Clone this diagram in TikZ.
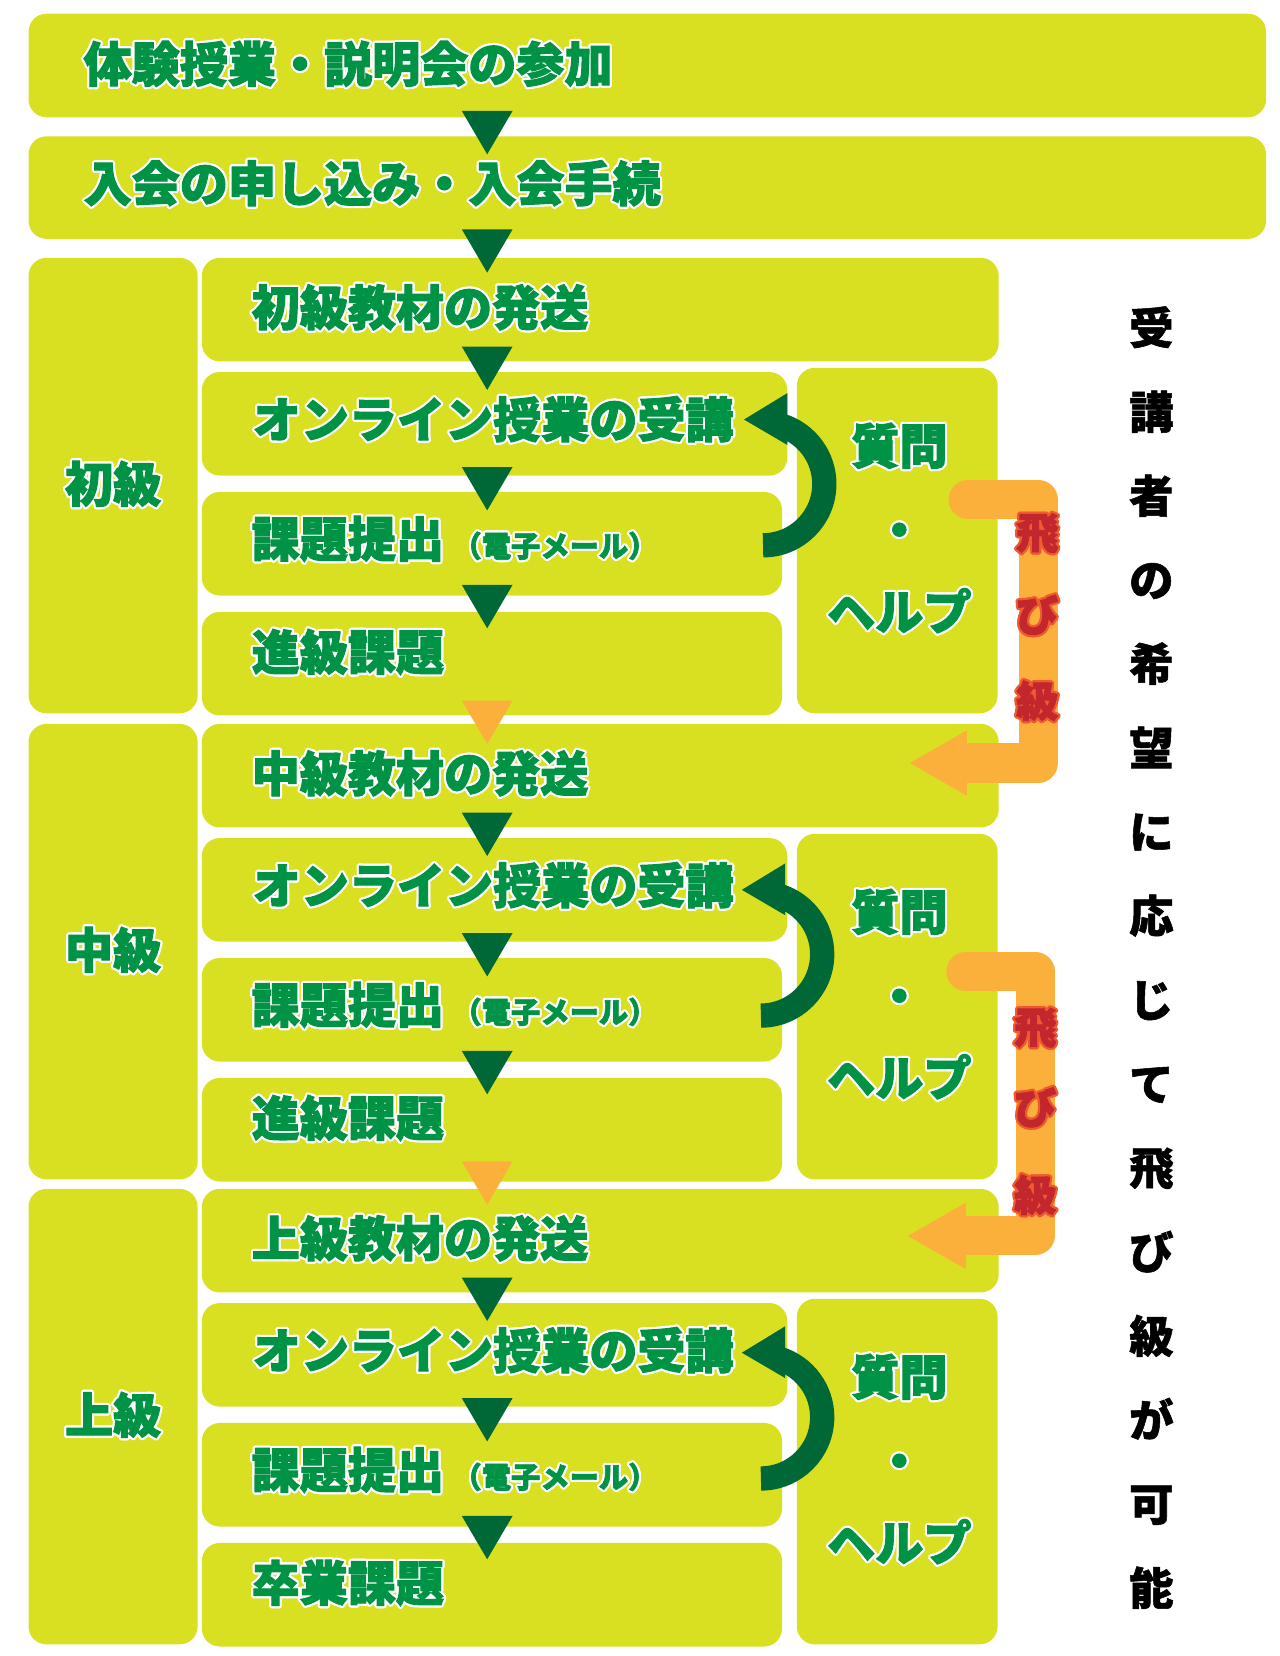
\documentclass[tikz,border=0pt]{standalone}
\usepackage{fontspec}
\newfontfamily\jp{Noto Sans CJK JP}[BoldFeatures={FakeBold=2.2}]
\newfontfamily\jpk{Noto Sans CJK JP}[BoldFeatures={FakeBold=1.2}]
\definecolor{boxc}{HTML}{D9E021}
\definecolor{dgreen}{HTML}{006837}
\definecolor{tgreen}{HTML}{009245}
\definecolor{orng}{HTML}{FBB03B}
\definecolor{redt}{HTML}{C1272D}
\definecolor{redo}{HTML}{EF5A2E}
\newcommand\haloshift[3]{\rlap{\hspace{#1pt}\raisebox{#2pt}{#3}}}
\newcommand\halo[3]{\leavevmode{\color{#1}%
  \haloshift{2.1}{0}{#3}\haloshift{1.82}{1.05}{#3}\haloshift{1.05}{1.82}{#3}%
  \haloshift{0}{2.1}{#3}\haloshift{-1.05}{1.82}{#3}\haloshift{-1.82}{1.05}{#3}%
  \haloshift{-2.1}{0}{#3}\haloshift{-1.82}{-1.05}{#3}\haloshift{-1.05}{-1.82}{#3}%
  \haloshift{0}{-2.1}{#3}\haloshift{1.05}{-1.82}{#3}\haloshift{1.82}{-1.05}{#3}}%
  {\color{#2}#3}}
\newcommand\gt[1]{\halo{white}{tgreen}{#1}}
\newcommand\rt[1]{\halo{redo}{redt}{#1}}
\begin{document}
\begin{tikzpicture}[x=1pt,y=-1pt,
  box/.style={fill=boxc,rounded corners=17pt,inner sep=0pt,outer sep=0pt,anchor=north west},
  big/.style={font=\jp\bfseries\fontsize{45.5}{45.5}\selectfont,inner sep=0pt,anchor=base west},
  redtxt/.style={font=\jp\bfseries\fontsize{40}{40}\selectfont,inner sep=0pt,anchor=base},
  vtxt/.style={font=\jpk\bfseries\fontsize{42}{42}\selectfont,inner sep=0pt,anchor=base,text=black},
  dtri/.style={fill=dgreen},
  otri/.style={fill=orng},
  skipline/.style={draw=orng,line width=37pt,line join=round,line cap=round},
  loop/.style={draw=dgreen,line width=23pt}]
\fill[white] (0,0) rectangle (1211,1567);
\useasboundingbox (0,0) rectangle (1211,1567);

% top boxes
\node[box,minimum width=1171pt,minimum height=98pt] (top1) at (27,13) {};
\node[box,minimum width=1171pt,minimum height=97pt] (top2) at (27,129) {};
\node[big] (top1t) at (79,77.6) {\gt{体験授業・説明会の参加}};
\node[big] (top2t) at (79,190.7) {\gt{入会の申し込み・入会手続}};

% sections
\foreach \i/\S/\lab/\last in {1/244/初級/進級課題,2/685/中級/進級課題,3/1125/上級/卒業課題}{
  \node[box,minimum width=160pt,minimum height=431pt] (L\i) at (27,\S) {};
  \node[box,minimum width=754pt,minimum height=98pt] (M\i-1) at (191,\S) {};
  \node[box,minimum width=554pt,minimum height=98pt] (M\i-2) at (191,\S+108) {};
  \node[box,minimum width=549pt,minimum height=98pt] (M\i-3) at (191,\S+221.5) {};
  \node[box,minimum width=549pt,minimum height=98pt] (M\i-4) at (191,\S+335) {};
  \node[box,minimum width=190pt,minimum height=327pt] (Q\i) at (754,\S+104) {};
  \node[big,anchor=base] (L\i t) at (107,\S+231) {\gt{\lab}};
  \node[big] (M\i-1t) at (238,\S+64) {\gt{\lab 教材の発送}};
  \node[big] (M\i-2t) at (239,\S+170) {\gt{オンライン授業の受講}};
  \node[big] (M\i-3t) at (238,\S+283) {\gt{課題提出\hspace{8pt}{\fontsize{27.7}{27.7}\selectfont （電子メール）}}};
  \node[big] (M\i-4t) at (238,\S+390) {\gt{\last}};
  \node[big,anchor=base] (Q\i a) at (851,\S+195) {\gt{質問}};
  \node[big,anchor=base] (Q\i b) at (851,\S+274.5) {\gt{・}};
  \node[big,anchor=base] (Q\i c) at (851,\S+352) {\gt{ヘルプ}};
  \fill[dtri] (437,\S+84) -- (485,\S+84) -- (461,\S+125) -- cycle;
  \fill[dtri] (437,\S+198) -- (485,\S+198) -- (461,\S+239) -- cycle;
  \fill[dtri] (437,\S+309.5) -- (485,\S+309.5) -- (461,\S+350.5) -- cycle;
}

% top arrows
\fill[dtri] (437,105) -- (485,105) -- (461,146) -- cycle;
\fill[dtri] (437,217) -- (485,217) -- (461,258) -- cycle;
% orange arrows between levels
\fill[otri] (437,663) -- (485,663) -- (461,704) -- cycle;
\fill[otri] (437,1099) -- (485,1099) -- (461,1140) -- cycle;

% loop arrows (submission -> lesson)
\draw[loop] (722,516) arc[start angle=90,end angle=-72,radius=58];
\fill[dtri] (704,397) -- (745,372) -- (745,421) -- cycle;
\draw[loop] (720,961) arc[start angle=90,end angle=-72,radius=58];
\fill[dtri] (702,842) -- (743,817) -- (743,866) -- cycle;
\draw[loop] (720,1399) arc[start angle=90,end angle=-72,radius=58];
\fill[dtri] (702,1280) -- (743,1255) -- (743,1304) -- cycle;

% skip-level connectors
\coordinate (s1start) at (916,473);
\coordinate (s1end) at (915,722);
\draw[skipline] (s1start) -- (982.5,473) -- (982.5,722) -- (s1end);
\fill[otri] (861,722) -- (915,691) -- (915,753) -- cycle;
\coordinate (s2start) at (914,919.5);
\coordinate (s2end) at (914,1169);
\draw[skipline] (s2start) -- (979.5,919.5) -- (979.5,1169) -- (s2end);
\fill[otri] (859,1169.5) -- (914,1138) -- (914,1201) -- cycle;

\node[redtxt] (r1a) at (981.5,519.2) {\rt{飛}};
\node[redtxt] (r1b) at (981.5,597.2) {\rt{び}};
\node[redtxt] (r1c) at (981.5,678.2) {\rt{級}};
\node[redtxt] (r2a) at (979.6,987.2) {\rt{飛}};
\node[redtxt] (r2b) at (979.6,1063.2) {\rt{び}};
\node[redtxt] (r2c) at (979.6,1145.7) {\rt{級}};

% vertical caption
\foreach \c [count=\k from 0] in {受,講,者,の,希,望,に,応,じ,て,飛,び,級,が,可,能}{
  \node[vtxt] (v\k) at (1089.5,310+79.5*\k+16) {\c};
}
\end{tikzpicture}
\end{document}
